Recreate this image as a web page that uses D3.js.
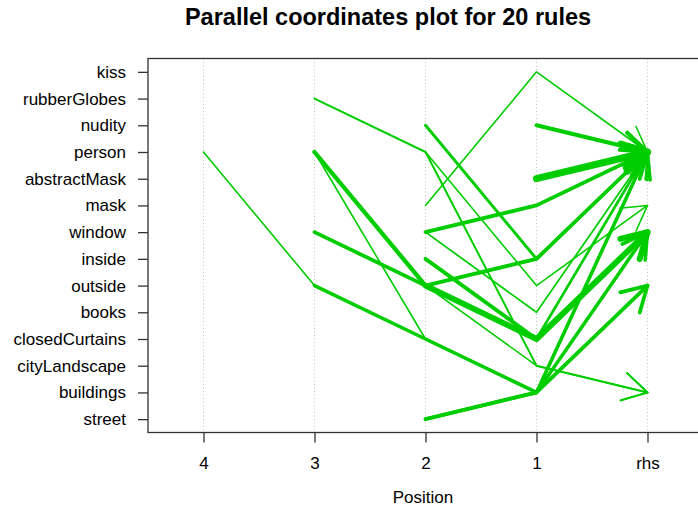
<!DOCTYPE html>
<html lang="en">
<head>
    <meta charset="UTF-8">
    <script src="https://d3js.org/d3.v7.min.js"></script>
    <style>
        body { margin: 0; background: #fff; }
        text { font-family: "Liberation Sans", Arial, sans-serif; fill: #000; }
        .title { font-weight: bold; font-size: 23.5px; text-anchor: middle; }
        .tick-label { font-size: 17px; }
    </style>
</head>
<body>
<div id="chart"></div>
<script>
// Data
const items = ["kiss", "rubberGlobes", "nudity", "person", "abstractMask", "mask", "window",
    "inside", "outside", "books", "closedCurtains", "cityLandscape", "buildings", "street"];
const positions = ["4", "3", "2", "1", "rhs"];

// lhs items, last one sits on position "1"
const ruleLhs = [
    ["person", "outside", "closedCurtains", "buildings"],
    ["outside", "closedCurtains", "buildings"],
    ["person", "closedCurtains", "buildings"],
    ["street", "buildings"],
    ["street", "buildings"],
    ["rubberGlobes", "person", "cityLandscape"],
    ["person", "outside"],
    ["person", "outside", "closedCurtains"],
    ["outside", "closedCurtains"],
    ["window", "outside", "inside"],
    ["nudity", "inside"],
    ["inside", "closedCurtains"],
    ["window", "mask"],
    ["window", "books"],
    ["mask", "kiss"],
    ["nudity"],
    ["abstractMask"],
    ["window", "outside", "cityLandscape"],
    ["outside", "closedCurtains"],
    ["closedCurtains", "buildings"]
];
const ruleRhs = ["window", "person", "outside", "outside", "window", "buildings", "mask", "window",
    "person", "person", "person", "window", "person", "person", "person", "person", "person",
    "buildings", "window", "person"];
const ruleSupport = [0.010, 0.024, 0.010, 0.026, 0.024, 0.013, 0.010, 0.030, 0.018, 0.026,
    0.020, 0.026, 0.026, 0.011, 0.010, 0.028, 0.050, 0.010, 0.042, 0.018];

const width = 698, height = 510;
const margin = {top: 58.5, left: 148, right: 703, bottom: 432.5};

const svg = d3.select("#chart").append("svg")
    .attr("width", width)
    .attr("height", height);

// Scales
const xScale = d3.scalePoint()
    .domain(positions)
    .range([margin.left, margin.right])
    .padding(0.5);

const yScale = d3.scalePoint()
    .domain(items)
    .range([margin.top, margin.bottom])
    .padding(0.5);

const widthScale = d3.scaleLinear()
    .domain([0.01, 0.05])
    .range([1.6, 7]);

// grid
svg.append("g")
    .selectAll("line")
    .data(positions)
    .join("line")
    .attr("x1", d => xScale(d))
    .attr("x2", d => xScale(d))
    .attr("y1", margin.top)
    .attr("y2", margin.bottom)
    .attr("stroke", "#c4c4c4")
    .attr("stroke-width", 1)
    .attr("stroke-dasharray", "1,2.5");

// Rules
const color = "#00CD00";
const arrowLen = 28;
const arrowAngle = Math.PI / 6;

const rules = ruleLhs.map((lhs, i) => {
    const pts = lhs.map((it, j) => [xScale(positions[4 - lhs.length + j]), yScale(it)]);
    pts.push([xScale("rhs"), yScale(ruleRhs[i])]);
    return {pts: pts, w: widthScale(ruleSupport[i])};
});

const lineGen = d3.line();
const g = svg.append("g");

rules.forEach(r => {
    g.append("path")
        .attr("d", lineGen(r.pts))
        .attr("fill", "none")
        .attr("stroke", color)
        .attr("stroke-width", r.w)
        .attr("stroke-linecap", "round")
        .attr("stroke-linejoin", "round");

    // arrow head
    const [x0, y0] = r.pts[r.pts.length - 2];
    const [x1, y1] = r.pts[r.pts.length - 1];
    const a = Math.atan2(y1 - y0, x1 - x0);
    const b1 = [x1 - arrowLen * Math.cos(a - arrowAngle), y1 - arrowLen * Math.sin(a - arrowAngle)];
    const b2 = [x1 - arrowLen * Math.cos(a + arrowAngle), y1 - arrowLen * Math.sin(a + arrowAngle)];
    g.append("path")
        .attr("d", lineGen([b1, [x1, y1], b2]))
        .attr("fill", "none")
        .attr("stroke", color)
        .attr("stroke-width", r.w)
        .attr("stroke-linecap", "round")
        .attr("stroke-linejoin", "round");
});

// Box
svg.append("rect")
    .attr("x", margin.left)
    .attr("y", margin.top)
    .attr("width", margin.right - margin.left)
    .attr("height", margin.bottom - margin.top)
    .attr("fill", "none")
    .attr("stroke", "#333")
    .attr("stroke-width", 1.3);

// Axes
const yAxis = d3.axisLeft(yScale).tickSize(10).tickPadding(12);
const yg = svg.append("g")
    .attr("transform", `translate(${margin.left},0)`)
    .call(yAxis);
yg.select(".domain").remove();
yg.selectAll("line").attr("stroke", "#333").attr("stroke-width", 1.3);
yg.selectAll("text").attr("class", "tick-label").attr("font-size", null).attr("font-family", null);

const xAxis = d3.axisBottom(xScale).tickSize(10).tickPadding(14);
const xg = svg.append("g")
    .attr("transform", `translate(0,${margin.bottom})`)
    .call(xAxis);
xg.select(".domain").remove();
xg.selectAll("line").attr("stroke", "#333").attr("stroke-width", 1.3);
xg.selectAll("text").attr("class", "tick-label").attr("font-size", null).attr("font-family", null);

svg.append("text")
    .attr("x", 423)
    .attr("y", 503)
    .attr("text-anchor", "middle")
    .attr("class", "tick-label")
    .text("Position");

svg.append("text")
    .attr("class", "title")
    .attr("x", 388)
    .attr("y", 25)
    .text("Parallel coordinates plot for 20 rules");
</script>
</body>
</html>
